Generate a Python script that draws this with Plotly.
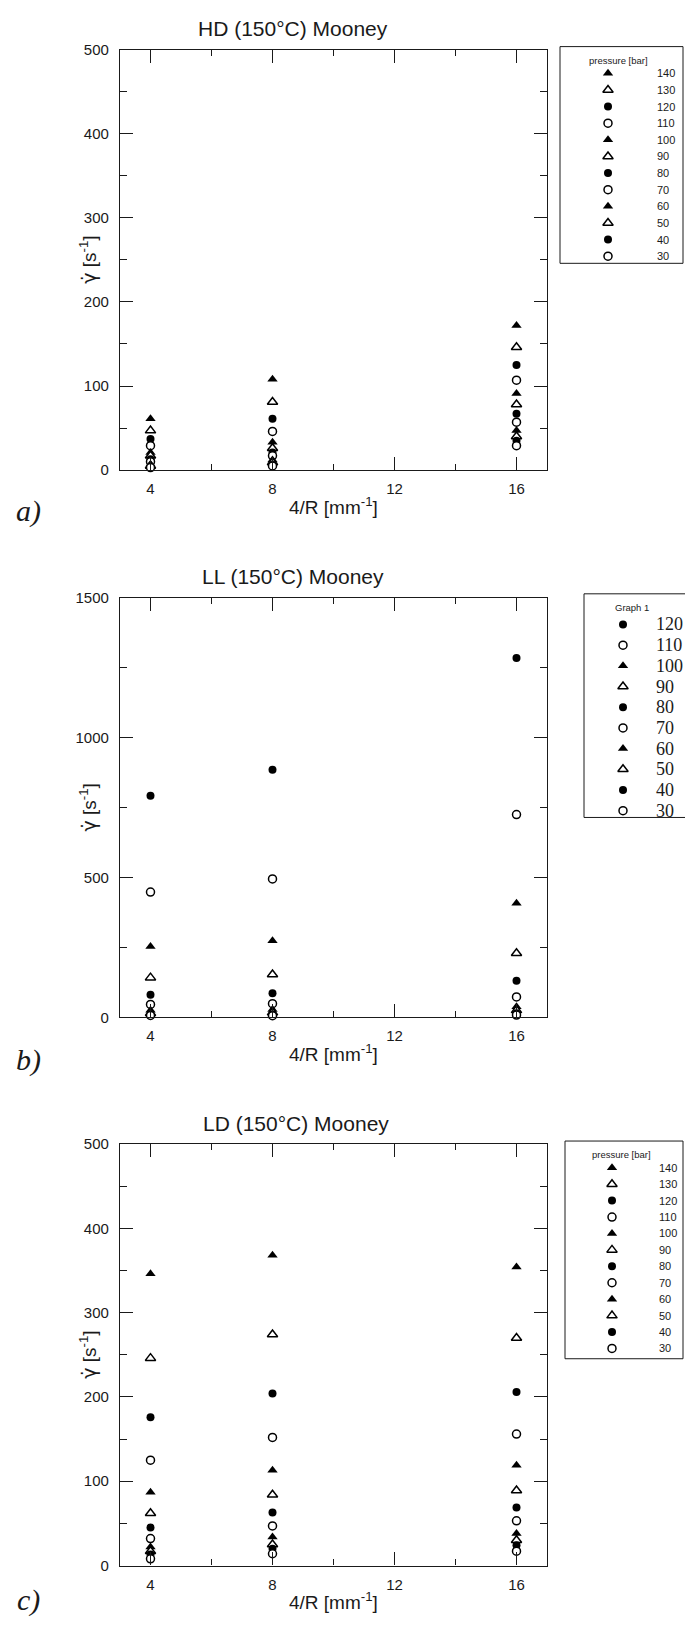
import plotly.graph_objects as go

W, H = 685, 1626

# die geometry on the x axis
x_positions = [4, 8, 16]

# HD (150°C) shear rates, one list per 4/R value, ordered by pressure
pressures_hd = [140, 130, 120, 110, 100, 90, 80, 70, 60, 50, 40, 30]
hd_at_4 = [61, 47, 37, 29, 21, 17, 13, 10, 7, 5, 4, 3]
hd_at_8 = [108, 81, 61, 46, 33, 26, 21, 17, 12, 9, 6, 5]
hd_at_16 = [172, 146, 125, 107, 91, 78, 67, 57, 47, 40, 35, 29]

# LL (150°C)
pressures_ll = [120, 110, 100, 90, 80, 70, 60, 50, 40, 30]
ll_at_4 = [792, 448, 253, 142, 81, 46, 25, 15, 10, 7]
ll_at_8 = [885, 495, 274, 153, 86, 49, 28, 17, 10, 6]
ll_at_16 = [1285, 725, 408, 229, 131, 73, 38, 25, 15, 8]

# LD (150°C)
pressures_ld = [140, 130, 120, 110, 100, 90, 80, 70, 60, 50, 40, 30]
ld_at_4 = [346, 246, 176, 125, 87, 62, 45, 32, 22, 17, 13, 8]
ld_at_8 = [368, 274, 204, 152, 113, 84, 63, 47, 34, 25, 20, 14]
ld_at_16 = [354, 270, 206, 156, 119, 89, 69, 53, 38, 30, 24, 17]

# marker style cycles with pressure: 120 filled circle, 110 open circle,
# 100/140 filled triangle, 90/130 open triangle ...
STYLES = {
    0: ("circle", "black"),
    3: ("circle", "white"),
    2: ("triangle-up", "black"),
    1: ("triangle-up", "white"),
}

SANS = "Arial, Liberation Sans, sans-serif"
SERIF = "Times New Roman, Liberation Serif, serif"
INK = "#1a1a1a"


def px(x):
    return x / W


def py(y):
    return 1 - y / H


def marker_for(p, size_c=8, size_t=9):
    sym, fill = STYLES[(p // 10) % 4]
    return dict(symbol=sym, color=fill,
                size=size_t if sym == "triangle-up" else size_c,
                line=dict(color="black", width=1.5 if fill == "white" else 0))


panels = [
    dict(key="", title="HD (150°C) Mooney", pressures=pressures_hd,
         cols=(hd_at_4, hd_at_8, hd_at_16), yrange=[0, 500], dtick=100,
         top=41, bottom=466, title_x=293, tag="a)", tag_y=507,
         legend=dict(box=(560, 38, 683, 257), head="pressure [bar]",
                     head_y=52, first=65, step=16.8, mx=608, tx=655,
                     font=dict(family=SANS, size=11, color=INK),
                     hfont=dict(family=SANS, size=9.5, color=INK))),
    dict(key="2", title="LL (150°C) Mooney", pressures=pressures_ll,
         cols=(ll_at_4, ll_at_8, ll_at_16), yrange=[0, 1500], dtick=500,
         top=595, bottom=1019, title_x=293, tag="b)", tag_y=1062,
         legend=dict(box=(584, 591, 700, 817), head="Graph 1",
                     head_y=605, first=622, step=20.9, mx=623, tx=654,
                     font=dict(family=SERIF, size=18, color=INK),
                     hfont=dict(family=SANS, size=9.5, color=INK))),
    dict(key="3", title="LD (150°C) Mooney", pressures=pressures_ld,
         cols=(ld_at_4, ld_at_8, ld_at_16), yrange=[0, 500], dtick=100,
         top=1147, bottom=1573, title_x=296, tag="c)", tag_y=1608,
         legend=dict(box=(565, 1144, 683, 1364), head="pressure [bar]",
                     head_y=1158, first=1171, step=16.6, mx=612, tx=657,
                     font=dict(family=SANS, size=11, color=INK),
                     hfont=dict(family=SANS, size=9.5, color=INK))),
]

LEFT, RIGHT = 120, 547

fig = go.Figure()
annotations = []
shapes = []

GAMMA_DOT = "<span style='font-family:DejaVu Sans'>γ̇</span>"

for pn in panels:
    k = pn["key"]
    xa, ya = "x" + k, "y" + k
    for i, p in enumerate(pn["pressures"]):
        ys = [col[i] for col in pn["cols"]]
        fig.add_trace(go.Scatter(
            x=x_positions, y=ys, mode="markers", name=str(p),
            marker=marker_for(p), xaxis=xa, yaxis=ya,
            showlegend=False, cliponaxis=False))

    axis_base = dict(showline=True, linecolor=INK, linewidth=1.3,
                     mirror="ticks", ticks="inside", ticklen=13,
                     tickwidth=1.2, tickcolor=INK, showgrid=False,
                     zeroline=False,
                     tickfont=dict(family=SANS, size=15, color=INK))
    fig.layout["xaxis" + k] = dict(
        axis_base, domain=[px(LEFT), px(RIGHT)], range=[3, 17],
        tick0=0, dtick=4, anchor=ya, ticklabelstandoff=5,
        minor=dict(ticks="inside", ticklen=6, tickwidth=1.2,
                   tickcolor=INK, dtick=2, tick0=0, showgrid=False))
    fig.layout["yaxis" + k] = dict(
        axis_base, domain=[py(pn["bottom"]), py(pn["top"])],
        range=pn["yrange"], tick0=0, dtick=pn["dtick"], anchor=xa,
        ticklabelstandoff=7,
        minor=dict(ticks="inside", ticklen=7, tickwidth=1.2,
                   tickcolor=INK, dtick=pn["dtick"] / 2, tick0=0,
                   showgrid=False))

    mid_y = (pn["top"] + pn["bottom"]) / 2
    annotations += [
        dict(text=pn["title"], x=px(pn["title_x"]), y=py(pn["top"] - 21),
             font=dict(family=SANS, size=21, color=INK)),
        dict(text="4/R [mm<sup>-1</sup>]", x=px((LEFT + RIGHT) / 2),
             y=py(pn["bottom"] + 36), font=dict(family=SANS, size=19, color=INK)),
        dict(text=GAMMA_DOT + " [s<sup>-1</sup>]", x=px(88), y=py(mid_y),
             textangle=-90, font=dict(family=SANS, size=19, color=INK)),
        dict(text=pn["tag"], x=px(28), y=py(pn["tag_y"]),
             font=dict(family=SERIF, size=30, color=INK, style="italic")),
    ]

    lg = pn["legend"]
    x0, y0, x1, y1 = lg["box"]
    shapes.append(dict(type="rect", xref="paper", yref="paper",
                       x0=px(x0), x1=px(x1), y0=py(y1), y1=py(y0),
                       line=dict(color=INK, width=1), fillcolor="white",
                       layer="below"))
    annotations.append(dict(text=lg["head"], x=px((x0 + min(x1, W)) / 2 - 3),
                            y=py(lg["head_y"]), font=lg["hfont"]))
    for i, p in enumerate(pn["pressures"]):
        yy = lg["first"] + i * lg["step"]
        fig.add_trace(go.Scatter(
            x=[lg["mx"]], y=[yy], mode="markers", marker=marker_for(p),
            xaxis="x9", yaxis="y9", showlegend=False, hoverinfo="skip",
            cliponaxis=False))
        annotations.append(dict(text=str(p), x=px(lg["tx"]), y=py(yy),
                                xanchor="left", font=lg["font"]))

for a in annotations:
    a.setdefault("xref", "paper")
    a.setdefault("yref", "paper")
    a.setdefault("showarrow", False)
    a.setdefault("xanchor", "center")
    a.setdefault("yanchor", "middle")

# pixel-space overlay used for the legend symbols
fig.update_layout(
    xaxis9=dict(domain=[0, 1], range=[0, W], visible=False, anchor="y9"),
    yaxis9=dict(domain=[0, 1], range=[H, 0], visible=False, anchor="x9"),
)

fig.update_layout(
    width=W, height=H, margin=dict(l=0, r=0, t=0, b=0),
    paper_bgcolor="white", plot_bgcolor="rgba(0,0,0,0)",
    showlegend=False, annotations=annotations, shapes=shapes,
)

fig.write_html("out.html", config=dict(displayModeBar=False))
